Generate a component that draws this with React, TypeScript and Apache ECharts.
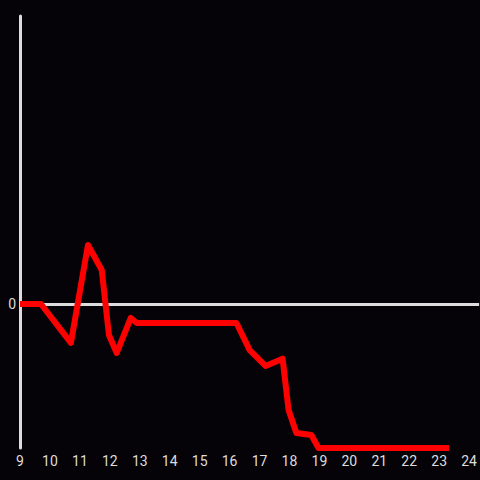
import React, { useEffect, useRef } from "react";
import * as echarts from "echarts";

const hours = [9.0, 9.7, 10.7, 11.27, 11.73, 11.97, 12.23, 12.7, 12.9, 16.23, 16.67, 17.2, 17.77, 17.97, 18.23, 18.73, 18.97, 23.33];
const values = [0, 0, -0.27, 0.41, 0.236, -0.215, -0.34, -0.097, -0.132, -0.132, -0.32, -0.43, -0.38, -0.736, -0.896, -0.91, -1, -1];
const xRange = [9, 24 + 1 / 3];

export default function App() {
  const ref = useRef<HTMLDivElement>(null);
  useEffect(() => {
    const chart = echarts.init(ref.current!, null, { renderer: "svg" });
    chart.setOption({
      animation: false,
      backgroundColor: "#050307",
      grid: { left: 20, right: 0, top: 16, bottom: 32 },
      xAxis: {
        type: "value",
        min: xRange[0],
        max: xRange[1],
        interval: 1,
        axisLine: { show: false, onZero: false },
        axisTick: { show: false },
        splitLine: { show: false },
        axisLabel: {
          color: "#dddddd",
          fontSize: 14,
          fontFamily: "Roboto",
          margin: 6,
          showMaxLabel: false,
          formatter: (v: number) => (Number.isInteger(v) ? String(v) : ""),
        },
      },
      yAxis: {
        type: "value",
        min: -1,
        max: 2,
        interval: 1,
        axisLine: { show: true, lineStyle: { color: "#dddddd", width: 3 } },
        axisTick: { show: false },
        splitLine: { show: false },
        axisLabel: {
          color: "#dddddd",
          fontSize: 14,
          fontFamily: "Roboto",
          margin: 4,
          formatter: (v: number) => (v === 0 ? "0" : ""),
        },
      },
      series: [
        {
          type: "line",
          data: hours.map((h, i) => [h, values[i]]),
          showSymbol: false,
          lineStyle: { color: "#ff0000", width: 6, join: "round" },
          markLine: {
            silent: true,
            symbol: "none",
            label: { show: false },
            lineStyle: { color: "#dddddd", width: 3, type: "solid" },
            data: [{ yAxis: 0 }],
            z: 1,
          },
          z: 3,
        },
      ],
    });
    return () => chart.dispose();
  }, []);
  return <div ref={ref} style={{ width: 480, height: 480, position: "absolute", left: 0, top: 0 }} />;
}
